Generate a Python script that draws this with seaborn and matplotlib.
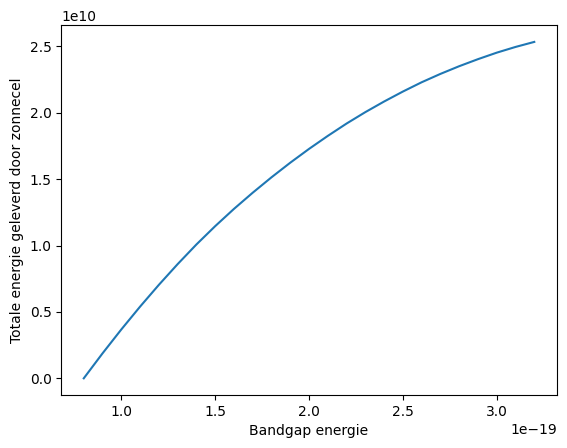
import matplotlib
matplotlib.use("Agg")
import matplotlib.pyplot as plt
import seaborn as sns
import pandas as pd

bandgap = [0.8, 0.9, 1.0, 1.1, 1.2, 1.3, 1.4, 1.5, 1.6, 1.7, 1.8, 1.9, 2.0,
           2.1, 2.2, 2.3, 2.4, 2.5, 2.6, 2.7, 2.8, 2.9, 3.0, 3.1, 3.2]
energie = [0.0, 0.188, 0.368, 0.540, 0.704, 0.860, 1.008, 1.146, 1.276, 1.398,
           1.514, 1.624, 1.728, 1.826, 1.919, 2.005, 2.085, 2.160, 2.230,
           2.293, 2.351, 2.404, 2.453, 2.496, 2.534]

df = pd.DataFrame({"x": [v * 1e-19 for v in bandgap],
                   "y": [v * 1e10 for v in energie]})

fig = plt.figure(figsize=(5.67, 4.48), dpi=100)
ax = fig.add_axes([0.108, 0.118, 0.874, 0.826])
sns.lineplot(data=df, x="x", y="y", ax=ax, color="#1f77b4")
ax.set_xlabel("Bandgap energie")
ax.set_ylabel("Totale energie geleverd door zonnecel")
fig.savefig("out.png", dpi=100)
